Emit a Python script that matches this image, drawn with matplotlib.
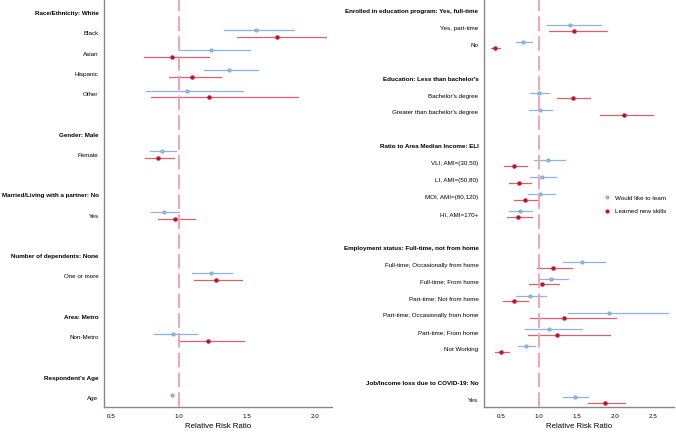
import numpy as np
import matplotlib
matplotlib.use("Agg")
import matplotlib.pyplot as plt

plt.rcParams['font.family'] = ['Liberation Sans', 'DejaVu Sans']

# ---- left panel data (nan = header / blank row) ----
left_labels = ["Race/Ethnicity: White", "Black", "Asian", "Hispanic", "Other", "",
               "Gender: Male", "Female", "",
               "Married/Living with a partner: No", "Yes", "",
               "Number of dependents: None", "One or more", "",
               "Area: Metro", "Non-Metro", "",
               "Respondent's Age", "Age"]
left_header = [1, 0, 0, 0, 0, 0, 1, 0, 0, 1, 0, 0, 1, 0, 0, 1, 0, 0, 1, 0]
nan = np.nan
left_learn = [nan, 1.566, 1.235, 1.370, 1.056, nan, nan, 0.877, nan, nan, 0.890, nan,
              nan, 1.233, nan, nan, 0.958, nan, nan, 0.949]
left_learn_lo = [nan, 1.331, 1.003, 1.186, 0.760, nan, nan, 0.789, nan, nan, 0.794, nan,
                 nan, 1.096, nan, nan, 0.818, nan, nan, 0.945]
left_learn_hi = [nan, 1.848, 1.522, 1.578, 1.468, nan, nan, 0.976, nan, nan, 1.000, nan,
                 nan, 1.390, nan, nan, 1.130, nan, nan, 0.953]
left_skill = [nan, 1.720, 0.949, 1.098, 1.218, nan, nan, 0.848, nan, nan, 0.970, nan,
              nan, 1.275, nan, nan, 1.216, nan, nan, nan]
left_skill_lo = [nan, 1.426, 0.743, 0.926, 0.794, nan, nan, 0.748, nan, nan, 0.843, nan,
                 nan, 1.113, nan, nan, 1.000, nan, nan, nan]
left_skill_hi = [nan, 2.078, 1.220, 1.306, 1.872, nan, nan, 0.963, nan, nan, 1.120, nan,
                 nan, 1.466, nan, nan, 1.478, nan, nan, nan]

# ---- right panel data ----
right_labels = ["Enrolled in education program: Yes, full-time", "Yes, part-time", "No", "",
                "Education: Less than bachelor's", "Bachelor's degree",
                "Greater than bachelor's degree", "",
                "Ratio to Area Median Income: ELI", "VLI, AMI=(30,50)", "LI, AMI=(50,80)",
                "MOI, AMI=(80,120)", "HI, AMI=170+", "",
                "Employment status: Full-time, not from home", "Full-time; Occasionally from home",
                "Full-time; From home", "Part-time; Not from home",
                "Part-time; Occasionally from home", "Part-time; From home", "Not Working", "",
                "Job/Income loss due to COVID-19: No", "Yes"]
right_header = [1, 0, 0, 0, 1, 0, 0, 0, 1, 0, 0, 0, 0, 0, 1, 0, 0, 0, 0, 0, 0, 0, 1, 0]
right_learn = [nan, 1.412, 0.793, nan, nan, 1.000, 1.013, nan, nan, 1.127, 1.040, 1.018, 0.750,
               nan, nan, 1.570, 1.162, 0.882, 1.921, 1.132, 0.829, nan, nan, 1.474]
right_learn_lo = [nan, 1.109, 0.697, nan, nan, 0.880, 0.872, nan, nan, 0.940, 0.880, 0.859, 0.609,
                  nan, nan, 1.320, 1.000, 0.706, 1.377, 0.825, 0.724, nan, nan, 1.320]
right_learn_hi = [nan, 1.820, 0.917, nan, nan, 1.130, 1.171, nan, nan, 1.350, 1.230, 1.219, 0.917,
                  nan, nan, 1.873, 1.380, 1.101, 2.700, 1.561, 0.956, nan, nan, 1.649]
right_skill = [nan, 1.465, 0.425, nan, nan, 1.443, 2.114, nan, nan, 0.675, 0.740, 0.816, 0.720,
               nan, nan, 1.180, 1.044, 0.675, 1.333, 1.241, 0.504, nan, nan, 1.873]
right_skill_lo = [nan, 1.136, 0.378, nan, nan, 1.241, 1.798, nan, nan, 0.540, 0.605, 0.670, 0.580,
                  nan, nan, 0.978, 0.872, 0.530, 0.886, 0.855, 0.421, nan, nan, 1.649]
right_skill_hi = [nan, 1.899, 0.496, nan, nan, 1.675, 2.500, nan, nan, 0.850, 0.895, 1.000, 0.912,
                  nan, nan, 1.430, 1.259, 0.864, 2.013, 1.934, 0.605, nan, nan, 2.130]

blue_pt = "#6f9fd6"
blue_ci = "#8db5e3"
red_pt = "#c0142c"
red_ci = "#d9616f"
fs = 4.5


def panel(ax, labels, header, learn, llo, lhi, skill, slo, shi, xlim, xticks, rows_pad):
    n = len(labels)
    y = np.arange(n)
    off = 0.17
    for i in range(n):
        if not np.isnan(learn[i]):
            ax.plot([llo[i], lhi[i]], [y[i] - off] * 2, color=blue_ci, lw=0.9, zorder=2)
        if not np.isnan(skill[i]):
            ax.plot([slo[i], shi[i]], [y[i] + off] * 2, color=red_ci, lw=0.9, zorder=2)
    ax.plot(learn, y - off, 'o', ms=2.2, color=blue_pt, mfc="#a9c8ec", mew=0.7, ls='none',
            zorder=3, label="Would like to learn")
    ax.plot(skill, y + off, 'o', ms=2.2, color=red_pt, ls='none', zorder=3,
            label="Learned new skills")
    ax.axvline(1.0, color="#eeaab4", lw=1.5, dashes=(7, 2.5), zorder=4)
    ax.set_yticks(y)
    ax.set_yticklabels(labels, fontsize=fs)
    for t, h in zip(ax.get_yticklabels(), header):
        if h:
            t.set_fontweight('bold')
    ax.tick_params(axis='y', length=0, pad=4)
    ax.tick_params(axis='x', length=0, labelsize=fs, pad=5)
    ax.set_xlim(*xlim)
    ax.set_xticks(xticks)
    ax.set_xticklabels([f"{v:.1f}" for v in xticks])
    ax.set_ylim(n - 1 + rows_pad[1], -rows_pad[0])
    for s in ['top', 'right']:
        ax.spines[s].set_visible(False)
    for s in ['left', 'bottom']:
        ax.spines[s].set_color("#888888")
        ax.spines[s].set_linewidth(1.0)
    ax.set_xlabel("Relative Risk Ratio", fontsize=5.6, labelpad=3)


fig = plt.figure(figsize=(6.76, 4.32), dpi=100)
ax1 = fig.add_axes([0.154, 0.058, 0.337, 0.942])
ax2 = fig.add_axes([0.716, 0.058, 0.281, 0.942])

panel(ax1, left_labels, left_header, left_learn, left_learn_lo, left_learn_hi,
      left_skill, left_skill_lo, left_skill_hi, (0.449, 2.125), [0.5, 1.0, 1.5, 2.0], (0.64, 0.44))
panel(ax2, right_labels, right_header, right_learn, right_learn_lo, right_learn_hi,
      right_skill, right_skill_lo, right_skill_hi, (0.28, 2.776), [0.5, 1.0, 1.5, 2.0, 2.5],
      (0.65, 0.41))

ax2.legend(loc='center left', bbox_to_anchor=(0.6, 0.497), frameon=False, fontsize=fs,
           handletextpad=0.6, handlelength=1.2, labelspacing=1.3, markerscale=0.9)

fig.savefig("out.png", dpi=100)
